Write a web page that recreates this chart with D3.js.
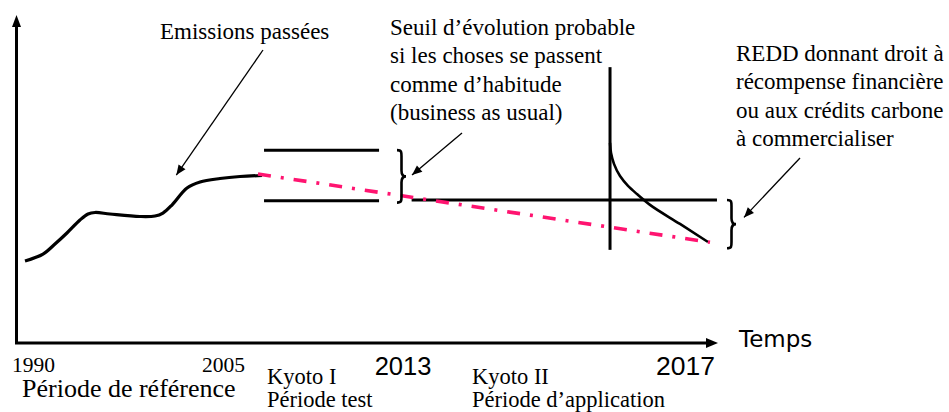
<!DOCTYPE html>
<html>
<head>
<meta charset="utf-8">
<script src="https://cdn.jsdelivr.net/npm/d3@7"></script>
<style>
  html, body { margin: 0; padding: 0; background: #fff; }
  svg { display: block; }
  .serif { font-family: "Liberation Serif", "Times New Roman", serif; fill: #000; }
  .sans { font-family: "Liberation Sans", Arial, sans-serif; fill: #000; }
</style>
</head>
<body>
<svg id="chart" width="949" height="412"></svg>
<script>
// ---------------- DATA ----------------
const tickYears  = [1990, 2005, 2013, 2017];
const tickLabels = ["1990", "2005", "2013", "2017"];

// Emissions passées (past emissions curve)
const pastYears  = [1990.00, 1991.16, 1991.93, 1992.70, 1993.54, 1994.06, 1994.51, 1995.47, 1997.40, 1998.37, 1998.88, 1999.46, 2000.43, 2001.27, 2002.55, 2003.84, 2005.23];
const pastValues = [25.00, 27.13, 30.18, 33.54, 37.50, 39.33, 39.79, 39.33, 38.57, 38.72, 39.63, 42.07, 47.26, 49.09, 50.15, 50.76, 51.07];

// Business as usual (dash-dot pink line)
const bauYears  = [2005, 2017];
const bauValues = [51.5, 30.7];

// Kyoto I band (upper and lower levels)
const kyoto1Years = [2005.34, 2011.82];
const kyoto1Upper = [58.8, 58.8];
const kyoto1Lower = [43.4, 43.4];

// Kyoto II level
const kyoto2Years  = [2013.15, 2017.09];
const kyoto2Values = [43.6, 43.6];

// REDD vertical marker and curve
const reddMarkYears  = [2015.71, 2015.71];
const reddMarkValues = [28.4, 84.1];
const reddYears  = [2015.710, 2015.723, 2015.761, 2015.839, 2015.942, 2016.058, 2016.226, 2016.613, 2016.974];
const reddValues = [61.0, 57.9, 54.6, 50.9, 47.9, 45.4, 42.1, 36.3, 30.8];

// Text
const pastLabel = ["Emissions passées"];
const bauLabel  = ["Seuil d’évolution probable", "si les choses se passent", "comme d’habitude", "(business as usual)"];
const reddLabel = ["REDD donnant droit à", "récompense financière", "ou aux crédits carbone", "à commercialiser"];
const periodLabels = [["Période de référence"], ["Kyoto I", "Période test"], ["Kyoto II", "Période d’application"]];
const axisTitle = "Temps";

// ---------------- DRAW ----------------
const svg = d3.select("#chart");
svg.append("rect").attr("width", 949).attr("height", 412).attr("fill", "#fff");

const x = d3.scaleLinear().domain(tickYears).range([25, 258, 400, 710]);
const y = d3.scaleLinear().domain([0, 100]).range([343, 15]);

const pink = "#ff1470";
const zip = (xs, ys) => xs.map((d, i) => [d, ys[i]]);
const line = d3.line().x(d => x(d[0])).y(d => y(d[1]));

// markers
const defs = svg.append("defs");
defs.append("marker")
  .attr("id", "arr")
  .attr("viewBox", "0 -5 10 10")
  .attr("refX", 10).attr("refY", 0)
  .attr("markerUnits", "userSpaceOnUse")
  .attr("markerWidth", 13).attr("markerHeight", 10)
  .attr("orient", "auto")
  .append("path").attr("d", "M0,-4.2L10,0L0,4.2Z").attr("fill", "#000");

// axes
const ox = 16.5, oy = y(0);
svg.append("path")
  .attr("d", `M${ox},${oy}L${ox},27 M${ox - 1.5},${oy}L707,${oy}`)
  .attr("stroke", "#000").attr("stroke-width", 3).attr("fill", "none");
svg.append("path").attr("d", `M${ox - 4.5},27L${ox + 4.5},27L${ox},15Z`).attr("fill", "#000");
svg.append("path").attr("d", `M706,${oy - 5}L718,${oy}L706,${oy + 5}Z`).attr("fill", "#000");

// Kyoto I band
[kyoto1Upper, kyoto1Lower].forEach(vals => {
  svg.append("path").attr("d", line(zip(kyoto1Years, vals)))
    .attr("stroke", "#000").attr("stroke-width", 3).attr("fill", "none");
});
// Kyoto II level
svg.append("path").attr("d", line(zip(kyoto2Years, kyoto2Values)))
  .attr("stroke", "#000").attr("stroke-width", 3).attr("fill", "none");

// REDD vertical marker
svg.append("path").attr("d", line(zip(reddMarkYears, reddMarkValues)))
  .attr("stroke", "#000").attr("stroke-width", 3).attr("fill", "none");

// REDD curve
svg.append("path")
  .attr("d", line.curve(d3.curveMonotoneY)(zip(reddYears, reddValues)))
  .attr("stroke", "#000").attr("stroke-width", 2.6).attr("fill", "none");
line.curve(d3.curveLinear);

// Past emissions
svg.append("path")
  .attr("d", d3.line().x(d => x(d[0])).y(d => y(d[1])).curve(d3.curveCatmullRom.alpha(0.5))(zip(pastYears, pastValues)))
  .attr("stroke", "#000").attr("stroke-width", 3.2).attr("fill", "none").attr("stroke-linecap", "butt");

// BAU dash-dot
svg.append("path").attr("d", line(zip(bauYears, bauValues)))
  .attr("stroke", pink).attr("stroke-width", 3.6).attr("fill", "none")
  .attr("stroke-dasharray", "13,10,3,10");

// braces
function brace(x0, y1, y2, w) {
  const ym = (y1 + y2) / 2, xm = x0 + w * 0.5;
  return `M${x0},${y1} C${x0 + w * 0.55},${y1} ${xm},${y1 + 2} ${xm},${y1 + 8}` +
         ` L${xm},${ym - 6} C${xm},${ym - 2} ${x0 + w * 0.7},${ym} ${x0 + w},${ym}` +
         ` C${x0 + w * 0.7},${ym} ${xm},${ym + 2} ${xm},${ym + 6}` +
         ` L${xm},${y2 - 8} C${xm},${y2 - 2} ${x0 + w * 0.55},${y2} ${x0},${y2}`;
}
svg.append("path").attr("d", brace(x(2013) - 3, y(kyoto1Upper[0]), y(kyoto1Lower[0]) + 2, 9))
  .attr("stroke", "#000").attr("stroke-width", 2.6).attr("fill", "none");
svg.append("path").attr("d", brace(x(2017) + 17, y(kyoto2Values[0]), y(bauValues[1]) + 6, 9))
  .attr("stroke", "#000").attr("stroke-width", 2.6).attr("fill", "none");

// annotation arrows
const arrows = [
  [[263, 50], [x(2000.0) - 4, y(51.2)]],
  [[462, 133], [x(2013) + 12, y(51.2)]],
  [[800, 158], [x(2017) + 34, y(38.3)]]
];
arrows.forEach(([a, b]) => {
  svg.append("line").attr("x1", a[0]).attr("y1", a[1]).attr("x2", b[0]).attr("y2", b[1])
    .attr("stroke", "#000").attr("stroke-width", 1.3).attr("marker-end", "url(#arr)");
});

// annotation texts
function block(lines, x0, y0, lh, size) {
  const t = svg.append("text").attr("class", "serif").attr("font-size", size);
  lines.forEach((s, i) => t.append("tspan").attr("x", x0).attr("y", y0 + i * lh).text(s));
}
block(pastLabel, 160, 39, 28.5, 23);
block(bauLabel, 390, 35, 28.4, 23);
block(reddLabel, 736, 61, 28.4, 23);

// tick labels
svg.append("text").attr("class", "serif").attr("font-size", 21.5)
  .attr("x", x(tickYears[0]) - 13).attr("y", 372).text(tickLabels[0]);
svg.append("text").attr("class", "serif").attr("font-size", 21.5).attr("text-anchor", "end")
  .attr("x", x(tickYears[1]) - 13).attr("y", 372).text(tickLabels[1]);
svg.append("text").attr("class", "sans").attr("font-size", 25.5).attr("text-anchor", "middle")
  .attr("x", x(tickYears[2]) + 3).attr("y", 375).text(tickLabels[2]);
svg.append("text").attr("class", "sans").attr("font-size", 26.5).attr("text-anchor", "end")
  .attr("x", x(tickYears[3]) + 5).attr("y", 375).text(tickLabels[3]);

// period labels
block(periodLabels[0], 22, 397, 23, 26);
block(periodLabels[1], 267, 384, 23, 22.5);
block(periodLabels[2], 472, 384, 23, 22.5);

// axis title
svg.append("text").attr("font-family", "'DejaVu Sans', sans-serif").attr("font-size", 23)
  .attr("x", 739).attr("y", 347).text(axisTitle);
</script>
</body>
</html>
